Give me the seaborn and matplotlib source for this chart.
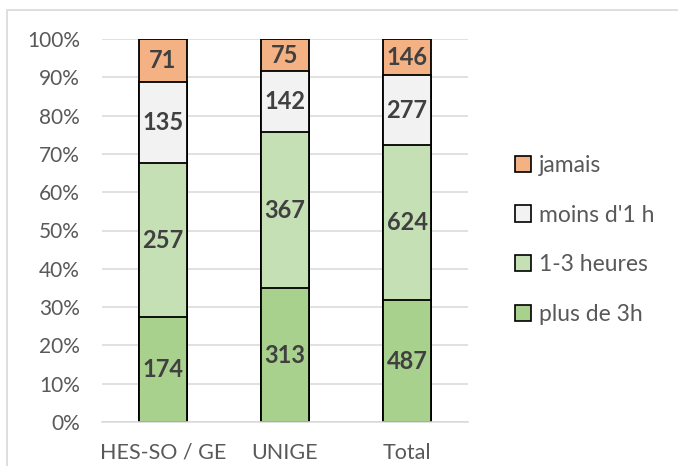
import numpy as np
import pandas as pd
import seaborn as sns
import matplotlib.pyplot as plt
from matplotlib.patches import Rectangle, Patch

# Données du graphique
groupes = ["HES-SO / GE", "UNIGE", "Total"]
categories = ["plus de 3h", "1-3 heures", "moins d'1 h", "jamais"]
plus_de_3h = [174, 313, 487]
un_a_trois = [257, 367, 624]
moins_1h = [135, 142, 277]
jamais = [71, 75, 146]
couleurs = ["#A9D18E", "#C5E0B4", "#F2F2F2", "#F4B183"]

sns.set_theme(style="white")
plt.rcParams["font.family"] = ["Lato", "DejaVu Sans"]

comptes = np.array([plus_de_3h, un_a_trois, moins_1h, jamais], dtype=float)
parts = comptes / comptes.sum(axis=0) * 100
cumul = parts.cumsum(axis=0)

fig = plt.figure(figsize=(6.78, 4.66), dpi=100)
# cadre gris autour du graphique
fig.patches.append(Rectangle((7 / 678, -0.1), 1.2, 1 - 10 / 466 + 0.1, transform=fig.transFigure,
                             fill=False, edgecolor="#D9D9D9", linewidth=1.2))
ax = fig.add_axes([102 / 678, 1 - 422 / 466, 366 / 678, 383 / 466])

# barres empilées : on dessine les cumuls du plus grand au plus petit
for i in range(len(categories) - 1, -1, -1):
    df = pd.DataFrame({"groupe": groupes, "valeur": cumul[i]})
    sns.barplot(data=df, x="groupe", y="valeur", color=couleurs[i], width=0.39,
                edgecolor="black", linewidth=1.3, saturation=1, ax=ax, zorder=2)

# étiquettes des valeurs
for i in range(len(categories)):
    for j in range(len(groupes)):
        milieu = cumul[i, j] - parts[i, j] / 2
        ax.text(j, milieu, str(int(comptes[i, j])), ha="center", va="center",
                fontsize=17, fontweight="bold", color="#404040", zorder=3)

ax.set_ylim(0, 100)
ax.set_xlim(-0.5, 2.5)
ax.set_yticks(range(0, 101, 10))
ax.set_yticklabels([f"{v}%" for v in range(0, 101, 10)])
ax.yaxis.grid(True, color="#D9D9D9", linewidth=1.1, zorder=0)
ax.set_axisbelow(True)
ax.set_xlabel("")
ax.set_ylabel("")
for s in ["top", "right", "left"]:
    ax.spines[s].set_visible(False)
ax.spines["bottom"].set_color("#D9D9D9")
ax.spines["bottom"].set_linewidth(1.1)
ax.tick_params(axis="both", length=0, labelsize=15, colors="#595959")
ax.tick_params(axis="x", pad=15, labelsize=15.5)
ax.tick_params(axis="y", pad=16)

poignees = [Patch(facecolor=couleurs[i], edgecolor="black", linewidth=1.2, label=categories[i])
            for i in range(len(categories) - 1, -1, -1)]
leg = fig.legend(handles=poignees, loc="center left", bbox_to_anchor=(0.742, 0.485),
                 frameon=False, fontsize=16.5, labelspacing=1.25, handlelength=0.72,
                 handleheight=0.72, handletextpad=0.35, borderpad=0)
for t in leg.get_texts():
    t.set_color("#595959")

plt.savefig("out.png", dpi=100)
plt.close()
